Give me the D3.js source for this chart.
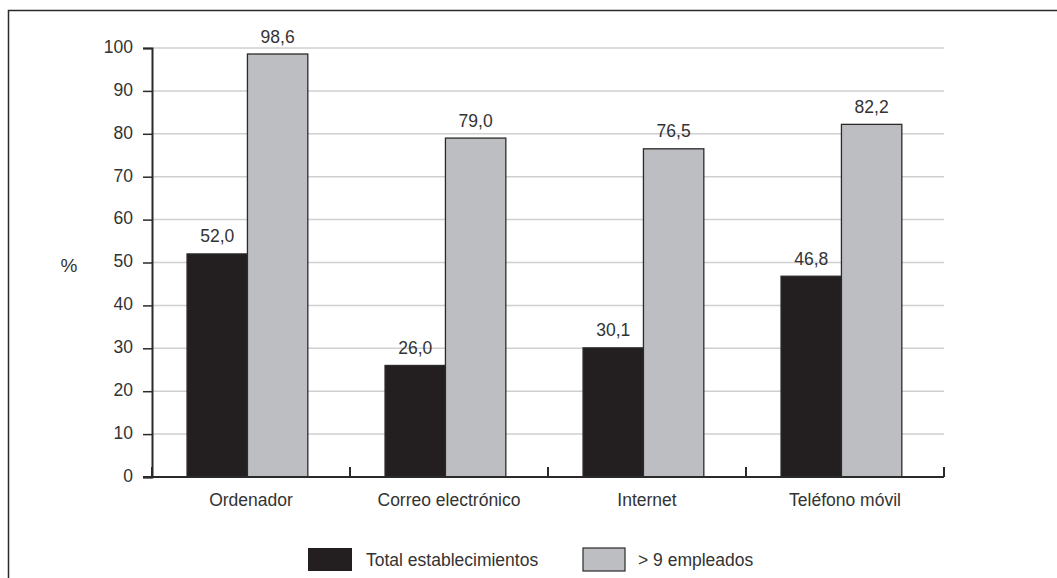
<!DOCTYPE html>
<html>
<head>
<meta charset="utf-8">
<script src="https://cdn.jsdelivr.net/npm/d3@7"></script>
<style>
  html, body { margin: 0; padding: 0; background: #fff; }
  svg { display: block; font-family: "Liberation Sans", Arial, sans-serif; }
</style>
</head>
<body>
<svg id="chart" width="1057" height="578"></svg>
<script>
// Uso de TIC en establecimientos (%)
const categories = ["Ordenador", "Correo electrónico", "Internet", "Teléfono móvil"];
const seriesNames = ["Total establecimientos", "> 9 empleados"];
const totalEstablecimientos = [52.0, 26.0, 30.1, 46.8];
const masDe9Empleados = [98.6, 79.0, 76.5, 82.2];
const yTicks = [0, 10, 20, 30, 40, 50, 60, 70, 80, 90, 100];
const seriesColors = ["#231f20", "#bdbec1"];

const seriesValues = [totalEstablecimientos, masDe9Empleados];
const fmt = v => v.toFixed(1).replace(".", ",");

const svg = d3.select("#chart");
const textColor = "#333";
const fontSize = 17.5;

// frame (top and left edges)
svg.append("path")
  .attr("d", "M8.5,578 V10.5 H1057")
  .attr("fill", "none")
  .attr("stroke", "#2a2a2a")
  .attr("stroke-width", 1.5);

const plot = { left: 152, right: 944, top: 48, bottom: 477 };

const x = d3.scaleBand().domain(categories).range([plot.left, plot.right]).padding(0);
const xs = d3.scaleBand().domain(d3.range(seriesNames.length))
  .range([x.bandwidth() * 0.177, x.bandwidth() * 0.787]).padding(0);
const y = d3.scaleLinear().domain([0, 100]).range([plot.bottom, plot.top]);

// gridlines
svg.append("g")
  .selectAll("line")
  .data(yTicks.filter(t => t > 0))
  .join("line")
  .attr("x1", plot.left).attr("x2", plot.right)
  .attr("y1", d => y(d)).attr("y2", d => y(d))
  .attr("stroke", "#cfcfcf")
  .attr("stroke-width", 1.5);

// bars
const groups = svg.append("g")
  .selectAll("g")
  .data(categories)
  .join("g")
  .attr("transform", d => `translate(${x(d)},0)`);

groups.selectAll("rect")
  .data((d, i) => seriesValues.map((vals, s) => ({ s, v: vals[i] })))
  .join("rect")
  .attr("x", d => xs(d.s))
  .attr("width", xs.bandwidth())
  .attr("y", d => y(d.v))
  .attr("height", d => y(0) - y(d.v))
  .attr("fill", d => seriesColors[d.s])
  .attr("stroke", "#2a2a2a")
  .attr("stroke-width", 1.3);

groups.selectAll("text")
  .data((d, i) => seriesValues.map((vals, s) => ({ s, v: vals[i] })))
  .join("text")
  .attr("x", d => xs(d.s) + xs.bandwidth() / 2)
  .attr("y", d => y(d.v) - 11.5)
  .attr("text-anchor", "middle")
  .attr("font-size", fontSize)
  .attr("fill", textColor)
  .text(d => fmt(d.v));

// y axis
const yAxis = svg.append("g")
  .attr("transform", `translate(${plot.left},0)`)
  .call(d3.axisLeft(y).tickValues(yTicks).tickSize(9).tickPadding(10));
yAxis.select(".domain").attr("stroke", "#2a2a2a").attr("stroke-width", 2);
yAxis.selectAll(".tick line").attr("stroke", "#2a2a2a").attr("stroke-width", 1.5);
yAxis.selectAll(".tick text")
  .attr("font-size", fontSize).attr("fill", textColor)
  .attr("dy", "0.25em")
  .attr("font-family", "Liberation Sans, Arial, sans-serif");

// x axis with upward ticks at band edges
const xAxisG = svg.append("g");
xAxisG.append("line")
  .attr("x1", plot.left - 9).attr("x2", plot.right)
  .attr("y1", plot.bottom).attr("y2", plot.bottom)
  .attr("stroke", "#2a2a2a").attr("stroke-width", 2);
const edges = categories.map(c => x(c)).concat([x(categories[categories.length - 1]) + x.bandwidth()]);
xAxisG.selectAll("line.edge")
  .data(edges)
  .join("line")
  .attr("class", "edge")
  .attr("x1", d => d).attr("x2", d => d)
  .attr("y1", plot.bottom).attr("y2", plot.bottom - 10)
  .attr("stroke", "#2a2a2a").attr("stroke-width", 2);
xAxisG.selectAll("text")
  .data(categories)
  .join("text")
  .attr("x", d => x(d) + x.bandwidth() / 2)
  .attr("y", 506)
  .attr("text-anchor", "middle")
  .attr("font-size", fontSize)
  .attr("fill", textColor)
  .text(d => d);

// axis title
svg.append("text")
  .attr("x", 69).attr("y", 272)
  .attr("text-anchor", "middle")
  .attr("font-size", 19)
  .attr("fill", textColor)
  .text("%");

// legend
const legendX = [308, 583];
const legend = svg.append("g")
  .selectAll("g")
  .data(seriesNames)
  .join("g")
  .attr("transform", (d, i) => `translate(${legendX[i]},548)`);
legend.append("rect")
  .attr("width", (d, i) => i === 0 ? 44 : 42).attr("height", 23)
  .attr("fill", (d, i) => seriesColors[i])
  .attr("stroke", (d, i) => i === 0 ? "none" : "#2a2a2a")
  .attr("stroke-width", 1.2);
legend.append("text")
  .attr("x", (d, i) => i === 0 ? 58 : 55)
  .attr("y", 18)
  .attr("font-size", fontSize)
  .attr("fill", textColor)
  .text(d => d);
</script>
</body>
</html>
